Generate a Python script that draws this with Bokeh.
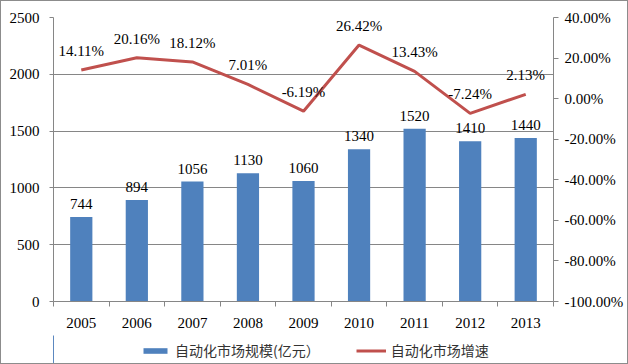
from bokeh.plotting import figure
from bokeh.layouts import column
from bokeh.models import (Range1d, LinearAxis, FixedTicker, NumeralTickFormatter,
                          ColumnDataSource, Legend, LegendItem, LabelSet)
from bokeh.core.properties import value
from bokeh.embed import file_html
from bokeh.resources import INLINE

years = ["2005", "2006", "2007", "2008", "2009", "2010", "2011", "2012", "2013"]
market_size = [744, 894, 1056, 1130, 1060, 1340, 1520, 1410, 1440]
growth_pct = [14.11, 20.16, 18.12, 7.01, -6.19, 26.42, 13.43, -7.24, 2.13]
left_ticks = [0, 500, 1000, 1500, 2000, 2500]
right_ticks = [-1.0, -0.8, -0.6, -0.4, -0.2, 0.0, 0.2, 0.4]
bar_name = "自动化市场规模(亿元）"
line_name = "自动化市场增速"

BAR = "#4F81BD"
LINE = "#C0504D"
GRID = "#868686"
SERIF = "Liberation Serif"
FS = "15px"

n = len(years)
xs = [i + 0.5 for i in range(n)]
src = ColumnDataSource(dict(
    x=xs, size=market_size, size_lbl=[str(v) for v in market_size],
    g=[v / 100 for v in growth_pct], g_lbl=["%.2f%%" % v for v in growth_pct],
))

p = figure(width=626, height=334, output_backend="svg", toolbar_location=None,
           x_range=Range1d(0, n), y_range=Range1d(0, 2500),
           min_border_left=52, min_border_right=74, min_border_top=16, min_border_bottom=34)
p.outline_line_color = None
p.extra_y_ranges = {"pct": Range1d(-1.0, 0.4)}

# axes
p.xaxis.ticker = FixedTicker(ticks=xs, minor_ticks=list(range(n + 1)))
p.xaxis.major_label_overrides = {x: y for x, y in zip(xs, years)}
p.xaxis.major_tick_line_color = None
p.xaxis.major_tick_in = 0
p.xaxis.major_tick_out = 0
p.xaxis.minor_tick_in = 0
p.xaxis.minor_tick_out = 5
p.xaxis.minor_tick_line_color = GRID
p.xaxis.axis_line_color = GRID
p.xaxis.major_label_text_font = SERIF
p.xaxis.major_label_text_font_size = FS
p.xaxis.major_label_text_color = "#000000"
p.xaxis.major_label_standoff = 11

p.yaxis.ticker = FixedTicker(ticks=left_ticks)
p.yaxis.axis_line_color = GRID
p.yaxis.major_tick_line_color = GRID
p.yaxis.major_tick_in = 0
p.yaxis.major_tick_out = 4
p.yaxis.minor_tick_line_color = None
p.yaxis.major_label_text_font = SERIF
p.yaxis.major_label_text_font_size = FS
p.yaxis.major_label_text_color = "#000000"
p.yaxis.major_label_standoff = 10

ry = LinearAxis(y_range_name="pct", ticker=FixedTicker(ticks=right_ticks),
                formatter=NumeralTickFormatter(format="0.00%"))
ry.axis_line_color = GRID
ry.major_tick_line_color = GRID
ry.major_tick_in = 0
ry.major_tick_out = 5
ry.minor_tick_line_color = None
ry.major_label_text_font = SERIF
ry.major_label_text_font_size = FS
ry.major_label_text_color = "#000000"
ry.major_label_standoff = 6
p.add_layout(ry, "right")

p.xgrid.grid_line_color = None
p.ygrid.ticker = FixedTicker(ticks=left_ticks)
p.ygrid.grid_line_color = GRID
p.ygrid.grid_line_width = 1

p.vbar(x="x", top="size", width=0.4, source=src, fill_color=BAR, line_color=None)
p.line(x="x", y="g", source=src, y_range_name="pct", line_color=LINE, line_width=3)

p.add_layout(LabelSet(x="x", y="size", text="size_lbl", source=src, y_offset=8,
                      text_align="center", text_baseline="bottom",
                      text_font=value(SERIF), text_font_size=FS, text_color="#000000"))
p.add_layout(LabelSet(x="x", y="g", text="g_lbl", source=src, y_range_name="pct",
                      y_offset=11, text_align="center", text_baseline="bottom",
                      text_font=value(SERIF), text_font_size=FS, text_color="#000000"))

# legend strip below the chart (its frame is aligned with the chart frame by the column)
lg = figure(width=626, height=28, output_backend="svg", toolbar_location=None,
            x_range=Range1d(100, 101), y_range=Range1d(0, 1),
            x_axis_type=None, y_axis_type=None,
            min_border_left=0, min_border_right=0, min_border_top=0, min_border_bottom=0)
lg.outline_line_color = None
lg.grid.visible = False
lbar = lg.vbar(x="x", top="size", width=0.4, source=src, fill_color=BAR, line_color=None)
lline = lg.line(x="x", y="g", source=src, line_color=LINE, line_width=3)

legend = Legend(items=[LegendItem(label=bar_name, renderers=[lbar]),
                       LegendItem(label=line_name, renderers=[lline])],
                orientation="horizontal", location=(87, 3),
                label_text_font="Noto Sans CJK SC", label_text_font_size="14px",
                label_text_color="#333333", label_standoff=5,
                glyph_width=30, glyph_height=7, spacing=36, padding=2,
                border_line_color=None, background_fill_alpha=0)
lg.add_layout(legend, "center")

layout = column(p, lg, spacing=0, styles={"border": "1px solid #8c8c8c"})

open("out.html", "w").write(file_html(layout, INLINE))
